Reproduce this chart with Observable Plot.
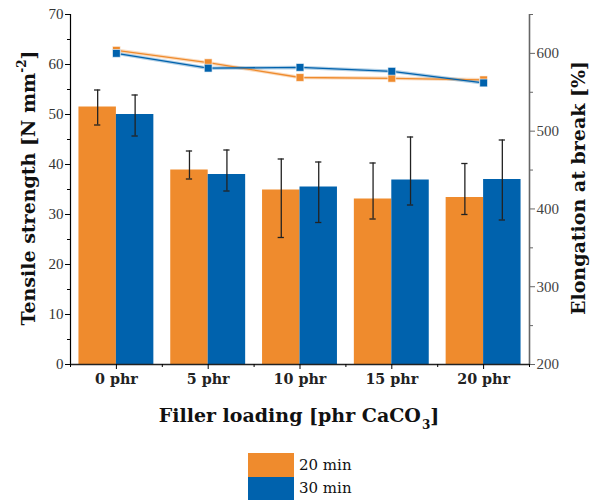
<!DOCTYPE html>
<html><head><meta charset="utf-8">
<script src="https://cdn.jsdelivr.net/npm/d3@7"></script>
<script src="https://cdn.jsdelivr.net/npm/@observablehq/plot@0.6"></script>
<style>
body{margin:0;background:#fff;font-family:"DejaVu Serif",serif;}
#wrap{position:relative;width:592px;height:501px;}
#legend{position:absolute;left:248px;top:453px;}
.item{display:flex;align-items:center;height:23.5px;}
.sw{width:46px;height:23.5px;}
.lab{margin-left:5px;font-size:15px;color:#111;font-family:"DejaVu Serif",serif;}
</style></head><body><div id="wrap"><div id="chart"></div><div id="legend"></div></div>
<script>
const categories = ["0 phr","5 phr","10 phr","15 phr","20 phr"];
const series = ["20 min","30 min"];
const colors = ["#EF8B2D","#0062AD"];
const tensile20 = [51.5, 38.9, 34.9, 33.1, 33.4];
const tensile30 = [50.0, 38.0, 35.5, 36.9, 37.0];
const tensile20Low = [47.9, 37.1, 25.4, 29.1, 30.0];
const tensile20High = [54.9, 42.7, 41.1, 40.3, 40.2];
const tensile30Low = [45.7, 34.7, 28.4, 31.9, 28.9];
const tensile30High = [53.9, 42.9, 40.5, 45.5, 44.9];
const elong20 = [604, 588, 569, 568, 566];
const elong30 = [600, 581, 582, 577, 562];
const leftTicks = [0,10,20,30,40,50,60,70];
const leftMinor = [5,15,25,35,45,55,65];
const rightTicks = [200,300,400,500,600];
const rightMinor = [250,350,450,550,650];

const W = 0.408, CAP = 0.034;
const e2y = d3.scaleLinear([200,650],[0,70]);
const idx = categories.map((c,i)=>i);

const bars = [];
idx.forEach(i=>{
  bars.push({i, j:0, s:series[0], v:tensile20[i], lo:tensile20Low[i], hi:tensile20High[i]});
  bars.push({i, j:1, s:series[1], v:tensile30[i], lo:tensile30Low[i], hi:tensile30High[i]});
});
const lines = [
  ...idx.map(i=>({i, s:series[0], e:elong20[i]})),
  ...idx.map(i=>({i, s:series[1], e:elong30[i]}))
];
const xc = d => d.i + (d.j - 0.5)*W;
const numFont = "Liberation Serif, serif";

const svg = Plot.plot({
  width:592, height:445,
  marginLeft:70, marginRight:63, marginTop:14, marginBottom:81,
  x:{domain:[-0.5,4.5], axis:null},
  y:{domain:[0,70], axis:null},
  color:{domain:series, range:colors},
  style:{fontFamily:numFont, fontSize:"15px", color:"#222", background:"#fff"},
  marks:[
    Plot.rectY(bars, {x1:d=>d.i - W + d.j*W, x2:d=>d.i + d.j*W, y1:0, y2:"v", fill:"s"}),
    Plot.ruleX(bars, {x:xc, y1:"lo", y2:"hi", stroke:"#222", strokeWidth:1.3}),
    Plot.ruleY(bars, {y:"lo", x1:d=>xc(d)-CAP, x2:d=>xc(d)+CAP, stroke:"#222", strokeWidth:1.3}),
    Plot.ruleY(bars, {y:"hi", x1:d=>xc(d)-CAP, x2:d=>xc(d)+CAP, stroke:"#222", strokeWidth:1.3}),
    Plot.line(lines, {x:"i", y:d=>e2y(d.e), z:"s", stroke:"s", strokeWidth:3.5, strokeOpacity:0.3}),
    Plot.line(lines, {x:"i", y:d=>e2y(d.e), z:"s", stroke:"s", strokeWidth:1.3}),
    Plot.dot(lines, {x:"i", y:d=>e2y(d.e), fill:"s", symbol:"square", r:4.4, stroke:"#fff", strokeWidth:0.6}),
    Plot.ruleX([-0.5], {y1:0, y2:70, stroke:"#000", strokeWidth:1.2}),
    Plot.ruleX([4.5], {y1:0, y2:70, stroke:"#666", strokeWidth:1.6}),
    Plot.ruleY([0], {x1:-0.5, x2:4.5, stroke:"#222", strokeWidth:1.5}),
    Plot.axisY(leftTicks, {anchor:"left", tickSize:5, tickPadding:2, label:null, stroke:"#000", fill:"#333"}),
    Plot.axisY(leftMinor, {anchor:"left", tickSize:3, tickFormat:()=>"", label:null, stroke:"#000"}),
    Plot.axisY(rightTicks.map(e2y), {anchor:"right", tickSize:5, tickPadding:2, label:null, tickFormat:d=>String(Math.round(e2y.invert(d))), stroke:"#666", fill:"#444"}),
    Plot.axisY(rightMinor.map(e2y), {anchor:"right", tickSize:3, tickFormat:()=>"", label:null, stroke:"#666"}),
    Plot.axisX(idx, {tickSize:5, tickPadding:4, label:null, tickFormat:i=>categories[i], fontWeight:"bold", fontFamily:"DejaVu Serif, serif", fontSize:14.3, stroke:"#000", fill:"#222"}),
    Plot.axisX([-0.5,0.5,1.5,2.5,3.5,4.5], {tickSize:3, tickFormat:()=>"", label:null, stroke:"#000"})
  ]
});

const s = d3.select(svg);
const tfont = "DejaVu Serif, serif";
const tsize = 19;
// left title
const lt = s.append("text").attr("transform","translate(35,188) rotate(-90)")
  .attr("text-anchor","middle").attr("font-family",tfont).attr("font-weight","bold").attr("font-size",tsize).attr("fill","#111");
lt.append("tspan").text("Tensile strength [N mm");
lt.append("tspan").attr("dy",-9).attr("font-size",12).text("-2");
lt.append("tspan").attr("dy",9).text("]");
// right title
s.append("text").attr("transform","translate(585,188) rotate(-90)")
  .attr("text-anchor","middle").attr("font-family",tfont).attr("font-weight","bold").attr("font-size",tsize).attr("fill","#111")
  .text("Elongation at break [%]");
// x title
const xt = s.append("text").attr("transform","translate(299,422)")
  .attr("text-anchor","middle").attr("font-family",tfont).attr("font-weight","bold").attr("font-size",tsize).attr("fill","#111");
xt.append("tspan").text("Filler loading [phr CaCO");
xt.append("tspan").attr("dy",7).attr("dx",1).attr("font-size",12).text("3");
xt.append("tspan").attr("dy",-7).text("]");

document.getElementById("chart").append(svg);

const leg = document.getElementById("legend");
series.forEach((name,k)=>{
  const it = document.createElement("div"); it.className="item";
  const sw = document.createElement("div"); sw.className="sw"; sw.style.background = colors[k];
  const lab = document.createElement("span"); lab.className="lab"; lab.textContent = name;
  it.append(sw, lab); leg.append(it);
});
</script>
</body></html>
